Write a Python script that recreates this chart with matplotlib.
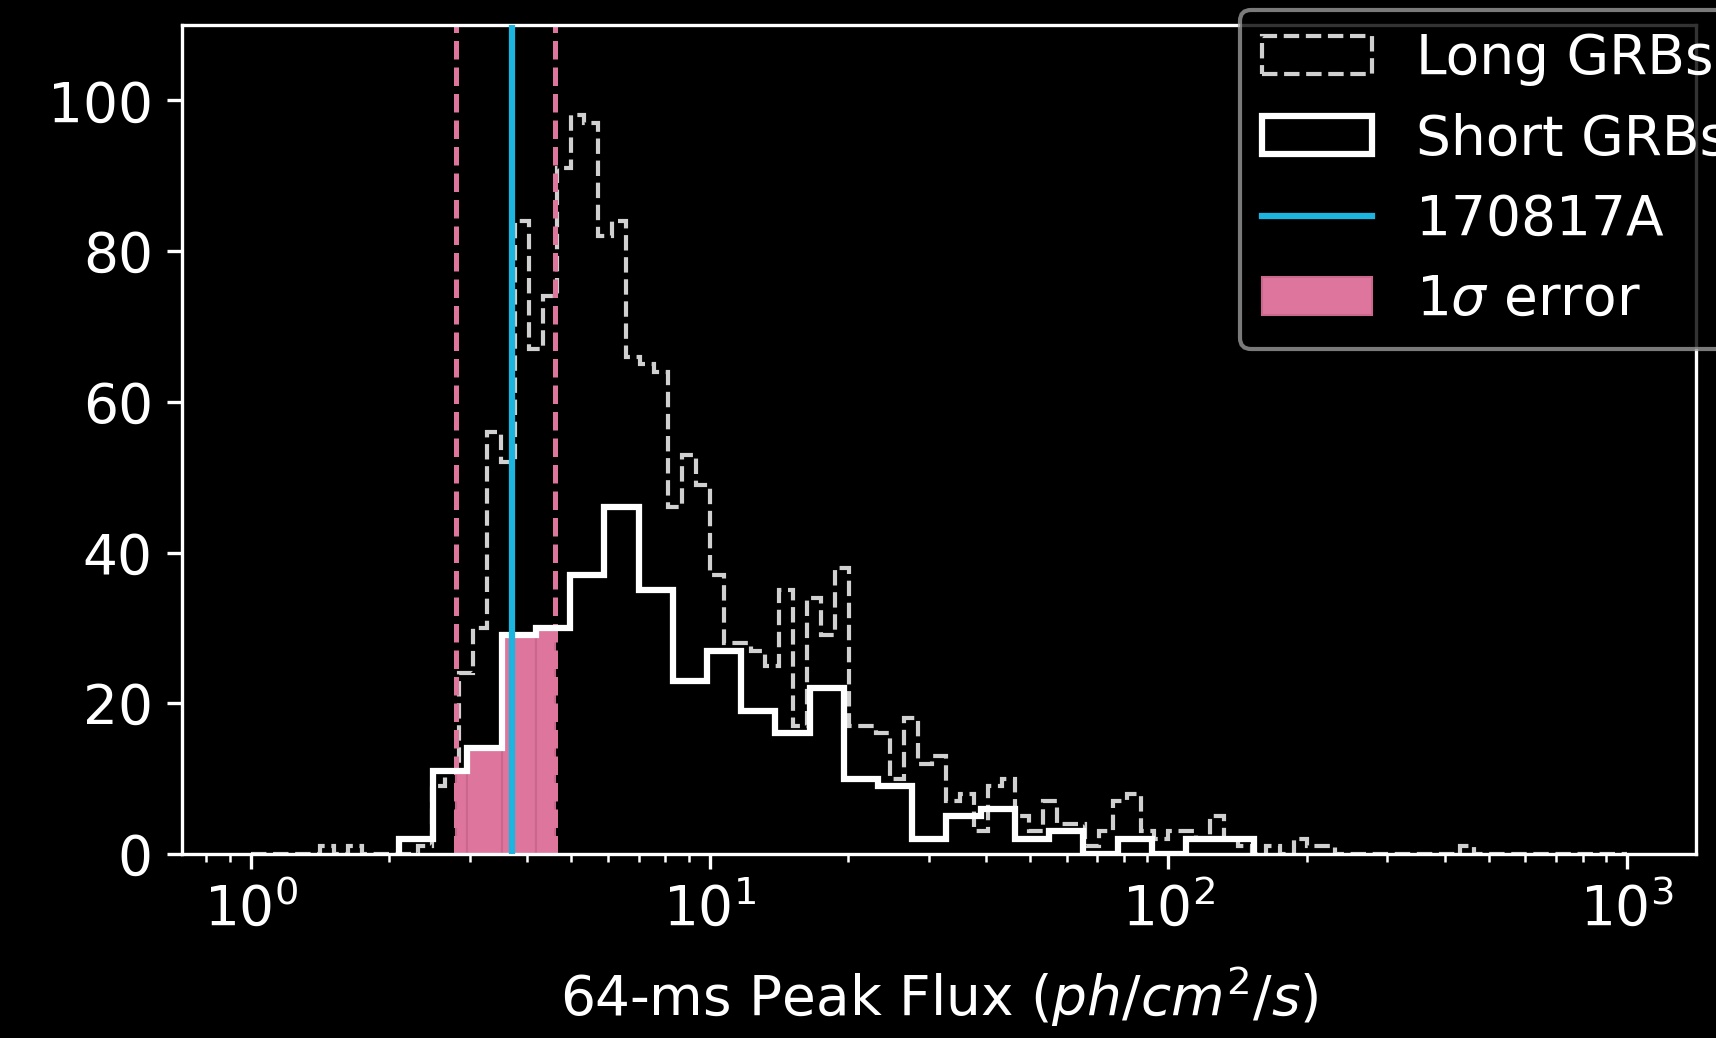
import numpy as np
import matplotlib
matplotlib.use("Agg")
import matplotlib.pyplot as plt

# Long GRBs: 99 log-spaced bins from 1 to 1000 ph/cm^2/s
long_edges = np.logspace(0, 3, 100)
long_counts = [
    0, 0, 0, 0, 0, 1, 0, 1, 0, 0,
    0, 0, 1, 9, 11, 24, 30, 56, 52, 84,
    67, 74, 91, 98, 97, 82, 84, 66, 65, 64,
    46, 53, 49, 37, 28, 28, 27, 25, 35, 17,
    34, 29, 38, 17, 17, 16, 10, 18, 12, 13,
    7, 8, 3, 9, 10, 5, 3, 7, 4, 4,
    1, 3, 7, 8, 3, 2, 3, 3, 2, 5,
    2, 1, 0, 1, 0, 2, 1, 1, 0, 0,
    0, 0, 0, 0, 0, 0, 0, 1, 0, 0,
    0, 0, 0, 0, 0, 0, 0, 0, 0,
]

# Short GRBs: 25 log-spaced bins across the short sample range
short_edges = np.logspace(np.log10(2.104), np.log10(154.0), 26)
short_counts = [
    2, 11, 14, 29, 30, 37, 46, 35, 23, 27,
    19, 16, 22, 10, 9, 2, 5, 6, 2, 3,
    0, 2, 0, 2, 2,
]

# GRB 170817A peak flux and its 1 sigma error
grb_flux = 3.7
grb_err = 0.9

pink = "#de759d"
blue = "#1cb5e0"

plt.style.use("dark_background")
plt.rcParams["font.size"] = 13.2

fig = plt.figure(figsize=(5.72, 3.46), dpi=300)
ax = fig.add_axes([182 / 1716, 184 / 1038, 1514 / 1716, 829 / 1038])

_, _, long_patch = ax.hist(long_edges[:-1], bins=long_edges, weights=long_counts,
                           histtype="step", ls="--", lw=1, color="#d0d0d0")
_, _, short_patch = ax.hist(short_edges[:-1], bins=short_edges, weights=short_counts,
                            histtype="step", lw=1.5, color="white", zorder=3)

# shade the short GRB histogram inside the error interval
lo, hi = grb_flux - grb_err, grb_flux + grb_err
left, width, height = [], [], []
for i, c in enumerate(short_counts):
    a = max(short_edges[i], lo)
    b = min(short_edges[i + 1], hi)
    if a < b:
        left.append(a)
        width.append(b - a)
        height.append(c)
err_bars = ax.bar(left, height, width=width, align="edge", color=pink,
                  edgecolor="#c9678c", lw=0.5, zorder=2)

grb_line = ax.axvline(grb_flux, color=blue, lw=1.5, zorder=4)
ax.axvline(lo, color=pink, ls="--", lw=1.2, zorder=2.5)
ax.axvline(hi, color=pink, ls="--", lw=1.2, zorder=2.5)

ax.set_xscale("log")
ax.set_ylim(0, 110)
ax.set_xlabel(r"64-ms Peak Flux ($ph/cm^2/s$)", labelpad=6.5)

ax.legend([long_patch[0], short_patch[0], grb_line, err_bars],
          ["Long GRBs", "Short GRBs", "170817A", r"1$\sigma$ error"],
          loc="upper left", bbox_to_anchor=(1240 / 1716, 1028 / 1038),
          bbox_transform=fig.transFigure, borderaxespad=0,
          labelspacing=0.48, edgecolor="0.6")

fig.savefig("out.png", dpi=300)
